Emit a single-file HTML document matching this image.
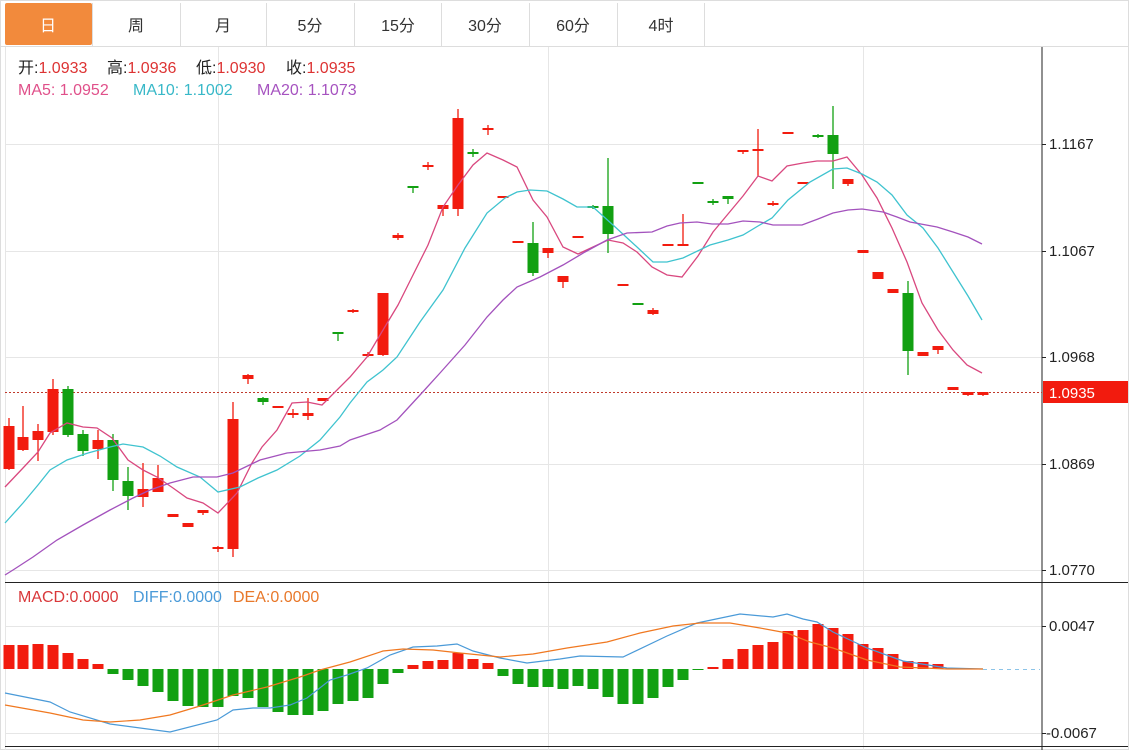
<!DOCTYPE html>
<html><head><meta charset="utf-8"><style>
html,body{margin:0;padding:0;background:#fff;}
svg{display:block;font-family:"Liberation Sans","Noto Sans CJK SC",sans-serif;}
</style></head><body>
<svg width="1137" height="750" viewBox="0 0 1137 750" xmlns="http://www.w3.org/2000/svg">
<rect x="0.5" y="0.5" width="1128" height="749" fill="#fff" stroke="#ddd"/>
<line x1="0" y1="46.5" x2="1128" y2="46.5" stroke="#ddd"/>
<rect x="5" y="3" width="87" height="42" rx="2" fill="#f28a3c"/>
<g stroke="#ddd">
<line x1="92.5" y1="3" x2="92.5" y2="46"/><line x1="180.5" y1="3" x2="180.5" y2="46"/>
<line x1="266.5" y1="3" x2="266.5" y2="46"/><line x1="354.5" y1="3" x2="354.5" y2="46"/>
<line x1="441.5" y1="3" x2="441.5" y2="46"/><line x1="529.5" y1="3" x2="529.5" y2="46"/>
<line x1="617.5" y1="3" x2="617.5" y2="46"/><line x1="704.5" y1="3" x2="704.5" y2="46"/>
</g>
<g font-size="16" text-anchor="middle" fill="#333">
<text x="48" y="31" fill="#fff">日</text><text x="136" y="31">周</text><text x="223" y="31">月</text>
<text x="310" y="31">5分</text><text x="398" y="31">15分</text><text x="485" y="31">30分</text>
<text x="573" y="31">60分</text><text x="661" y="31">4时</text>
</g>
<g stroke="#e6e6e6">
<line x1="5" y1="144.5" x2="1042" y2="144.5"/><line x1="5" y1="251.5" x2="1042" y2="251.5"/>
<line x1="5" y1="357.5" x2="1042" y2="357.5"/><line x1="5" y1="464.5" x2="1042" y2="464.5"/>
<line x1="5" y1="570.5" x2="1042" y2="570.5"/>
<line x1="5" y1="626.5" x2="1042" y2="626.5"/><line x1="5" y1="733.5" x2="1042" y2="733.5"/>
<line x1="218.5" y1="47" x2="218.5" y2="750"/><line x1="548.5" y1="47" x2="548.5" y2="750"/>
<line x1="863.5" y1="47" x2="863.5" y2="750"/>
<line x1="5.5" y1="47" x2="5.5" y2="750"/>
</g>
<line x1="1042" y1="47" x2="1042" y2="750" stroke="#222"/>
<line x1="5" y1="582.5" x2="1128" y2="582.5" stroke="#222"/>
<line x1="5" y1="746.5" x2="1128" y2="746.5" stroke="#222"/>
<g stroke="#222">
<line x1="1042" y1="144.5" x2="1046" y2="144.5"/><line x1="1042" y1="251.5" x2="1046" y2="251.5"/>
<line x1="1042" y1="357.5" x2="1046" y2="357.5"/><line x1="1042" y1="464.5" x2="1046" y2="464.5"/>
<line x1="1042" y1="570.5" x2="1046" y2="570.5"/><line x1="1042" y1="626.5" x2="1046" y2="626.5"/>
<line x1="1042" y1="733.5" x2="1046" y2="733.5"/>
</g>
<g font-size="15" fill="#222">
<text x="1049" y="149">1.1167</text><text x="1049" y="256">1.1067</text>
<text x="1049" y="362">1.0968</text><text x="1049" y="469">1.0869</text>
<text x="1049" y="575">1.0770</text><text x="1049" y="631">0.0047</text>
<text x="1046" y="738">-0.0067</text>
</g>
<line x1="5" y1="392.5" x2="1042" y2="392.5" stroke="#c0392b" stroke-dasharray="2,2"/>
<rect x="1043" y="381" width="85" height="22" fill="#f21b0e"/>
<text x="1049" y="398" font-size="15" fill="#fff">1.0935</text>
<g font-size="16">
<text x="18" y="73"><tspan fill="#222">开:</tspan><tspan fill="#d33">1.0933</tspan></text>
<text x="107" y="73"><tspan fill="#222">高:</tspan><tspan fill="#d33">1.0936</tspan></text>
<text x="196" y="73"><tspan fill="#222">低:</tspan><tspan fill="#d33">1.0930</tspan></text>
<text x="286" y="73"><tspan fill="#222">收:</tspan><tspan fill="#d33">1.0935</tspan></text>
<text x="18" y="95" fill="#e0508a">MA5: 1.0952</text>
<text x="133" y="95" fill="#38b8c8">MA10: 1.1002</text>
<text x="257" y="95" fill="#a653c0">MA20: 1.1073</text>
<text x="18" y="602" fill="#d9383a">MACD:0.0000</text>
<text x="133" y="602" fill="#4a9ad8">DIFF:0.0000</text>
<text x="233" y="602" fill="#e8782a">DEA:0.0000</text>
</g>
<g stroke-width="1.3">
<g fill="#f21b0e" stroke="#f21b0e">
<line x1="9" y1="418" x2="9" y2="470"/><rect x="3.5" y="426" width="11" height="43" stroke="none"/>
<line x1="23" y1="406" x2="23" y2="451"/><rect x="17.5" y="437" width="11" height="13" stroke="none"/>
<line x1="38" y1="424" x2="38" y2="461"/><rect x="32.5" y="431" width="11" height="9" stroke="none"/>
<line x1="53" y1="379" x2="53" y2="435"/><rect x="47.5" y="389" width="11" height="43" stroke="none"/>
<line x1="98" y1="430" x2="98" y2="459"/><rect x="92.5" y="440" width="11" height="9" stroke="none"/>
<line x1="143" y1="463" x2="143" y2="507"/><rect x="137.5" y="489" width="11" height="8" stroke="none"/>
<line x1="158" y1="465" x2="158" y2="492"/><rect x="152.5" y="478" width="11" height="14" stroke="none"/>
<rect x="167.5" y="514" width="11" height="3" stroke="none"/>
<rect x="182.5" y="523" width="11" height="4" stroke="none"/>
<line x1="203" y1="510" x2="203" y2="515"/><rect x="197.5" y="510" width="11" height="3" stroke="none"/>
<line x1="218" y1="546" x2="218" y2="552"/><rect x="212.5" y="547" width="11" height="2" stroke="none"/>
<line x1="233" y1="402" x2="233" y2="557"/><rect x="227.5" y="419" width="11" height="130" stroke="none"/>
<line x1="248" y1="374" x2="248" y2="384"/><rect x="242.5" y="375" width="11" height="4" stroke="none"/>
<rect x="272.5" y="406" width="11" height="2" stroke="none"/>
<line x1="293" y1="409" x2="293" y2="418"/><rect x="287.5" y="413" width="11" height="2" stroke="none"/>
<line x1="308" y1="398" x2="308" y2="420"/><rect x="302.5" y="413" width="11" height="3" stroke="none"/>
<rect x="317.5" y="398" width="11" height="3" stroke="none"/>
<line x1="353" y1="309" x2="353" y2="313"/><rect x="347.5" y="310" width="11" height="2" stroke="none"/>
<line x1="368" y1="352" x2="368" y2="357"/><rect x="362.5" y="354" width="11" height="2" stroke="none"/>
<line x1="383" y1="293" x2="383" y2="356"/><rect x="377.5" y="293" width="11" height="62" stroke="none"/>
<line x1="398" y1="233" x2="398" y2="240"/><rect x="392.5" y="235" width="11" height="3" stroke="none"/>
<line x1="428" y1="162" x2="428" y2="170"/><rect x="422.5" y="165" width="11" height="2" stroke="none"/>
<line x1="443" y1="205" x2="443" y2="216"/><rect x="437.5" y="205" width="11" height="4" stroke="none"/>
<line x1="458" y1="109" x2="458" y2="216"/><rect x="452.5" y="118" width="11" height="91" stroke="none"/>
<line x1="488" y1="125" x2="488" y2="135"/><rect x="482.5" y="128" width="11" height="2" stroke="none"/>
<rect x="497.5" y="196" width="11" height="2" stroke="none"/>
<rect x="512.5" y="241" width="11" height="2" stroke="none"/>
<line x1="548" y1="248" x2="548" y2="258"/><rect x="542.5" y="248" width="11" height="5" stroke="none"/>
<line x1="563" y1="276" x2="563" y2="288"/><rect x="557.5" y="276" width="11" height="6" stroke="none"/>
<rect x="572.5" y="236" width="11" height="2" stroke="none"/>
<rect x="617.5" y="284" width="11" height="2" stroke="none"/>
<line x1="653" y1="308" x2="653" y2="315"/><rect x="647.5" y="310" width="11" height="4" stroke="none"/>
<rect x="662.5" y="244" width="11" height="2" stroke="none"/>
<line x1="683" y1="214" x2="683" y2="246"/><rect x="677.5" y="244" width="11" height="2" stroke="none"/>
<line x1="743" y1="150" x2="743" y2="154"/><rect x="737.5" y="150" width="11" height="2" stroke="none"/>
<line x1="758" y1="129" x2="758" y2="176"/><rect x="752.5" y="149" width="11" height="2" stroke="none"/>
<line x1="773" y1="201" x2="773" y2="206"/><rect x="767.5" y="203" width="11" height="2" stroke="none"/>
<rect x="782.5" y="132" width="11" height="2" stroke="none"/>
<rect x="797.5" y="182" width="11" height="2" stroke="none"/>
<line x1="848" y1="179" x2="848" y2="186"/><rect x="842.5" y="179" width="11" height="5" stroke="none"/>
<rect x="857.5" y="250" width="11" height="3" stroke="none"/>
<rect x="872.5" y="272" width="11" height="7" stroke="none"/>
<rect x="887.5" y="289" width="11" height="4" stroke="none"/>
<rect x="917.5" y="352" width="11" height="4" stroke="none"/>
<line x1="938" y1="347" x2="938" y2="354"/><rect x="932.5" y="346" width="11" height="4" stroke="none"/>
<rect x="947.5" y="387" width="11" height="3" stroke="none"/>
<line x1="968" y1="392" x2="968" y2="396"/><rect x="962.5" y="392" width="11" height="3" stroke="none"/>
<line x1="983" y1="392" x2="983" y2="396"/><rect x="977.5" y="392" width="11" height="3" stroke="none"/>
</g>
<g fill="#12a012" stroke="#12a012">
<line x1="68" y1="386" x2="68" y2="437"/><rect x="62.5" y="389" width="11" height="46" stroke="none"/>
<line x1="83" y1="430" x2="83" y2="456"/><rect x="77.5" y="434" width="11" height="17" stroke="none"/>
<line x1="113" y1="434" x2="113" y2="491"/><rect x="107.5" y="440" width="11" height="40" stroke="none"/>
<line x1="128" y1="467" x2="128" y2="510"/><rect x="122.5" y="481" width="11" height="15" stroke="none"/>
<line x1="263" y1="397" x2="263" y2="405"/><rect x="257.5" y="398" width="11" height="4" stroke="none"/>
<line x1="338" y1="333" x2="338" y2="341"/><rect x="332.5" y="332" width="11" height="2" stroke="none"/>
<line x1="413" y1="187" x2="413" y2="193"/><rect x="407.5" y="186" width="11" height="2" stroke="none"/>
<line x1="473" y1="149" x2="473" y2="157"/><rect x="467.5" y="152" width="11" height="2" stroke="none"/>
<line x1="533" y1="222" x2="533" y2="276"/><rect x="527.5" y="243" width="11" height="30" stroke="none"/>
<line x1="593" y1="205" x2="593" y2="209"/><rect x="587.5" y="206" width="11" height="2" stroke="none"/>
<line x1="608" y1="158" x2="608" y2="253"/><rect x="602.5" y="206" width="11" height="28" stroke="none"/>
<rect x="632.5" y="303" width="11" height="2" stroke="none"/>
<rect x="692.5" y="182" width="11" height="2" stroke="none"/>
<line x1="713" y1="199" x2="713" y2="205"/><rect x="707.5" y="201" width="11" height="2" stroke="none"/>
<line x1="728" y1="197" x2="728" y2="204"/><rect x="722.5" y="196" width="11" height="3" stroke="none"/>
<line x1="818" y1="134" x2="818" y2="138"/><rect x="812.5" y="135" width="11" height="2" stroke="none"/>
<line x1="833" y1="106" x2="833" y2="189"/><rect x="827.5" y="135" width="11" height="19" stroke="none"/>
<line x1="908" y1="281" x2="908" y2="375"/><rect x="902.5" y="293" width="11" height="58" stroke="none"/>
</g>
</g>
<g fill="none" stroke-width="1.3">
<polyline stroke="#d9487f" points="5,487 23,468 38,452 50,433 67,423 83,427 97,428 112,438 128,460 143,470 157,477 173,488 187,498 203,503 218,513 237,493 252,463 262,447 277,430 292,403 307,402 322,405 330,397 350,377 367,357 383,330 398,305 407,287 428,245 443,207 458,185 473,165 487,153 503,160 517,167 533,200 547,217 563,247 578,254 593,247 608,240 623,243 637,252 652,267 667,275 682,277 698,256 713,232 728,214 743,196 758,176 772,181 787,166 803,163 817,161 833,161 847,157 862,175 877,198 892,228 907,262 922,303 938,330 953,350 967,365 982,373"/>
<polyline stroke="#3fc3cf" points="5,523 23,503 38,485 50,470 67,460 88,453 110,447 123,444 143,447 160,456 177,467 200,477 218,492 240,487 258,478 277,470 300,456 320,440 340,417 350,403 367,382 383,370 397,357 420,322 443,290 465,248 487,213 505,198 517,192 530,190 547,191 563,199 577,207 593,207 613,225 625,236 637,247 653,262 667,262 683,258 710,245 728,240 743,235 758,226 772,218 788,200 810,182 833,169 847,168 862,174 877,182 892,195 907,215 923,228 938,248 953,272 968,296 982,320"/>
<polyline stroke="#a352bd" points="5,575 13,570 33,557 57,540 83,525 110,510 133,498 150,490 170,483 193,477 217,477 233,473 260,460 287,453 320,450 340,446 350,440 380,430 397,420 420,395 440,373 465,345 487,317 503,300 517,287 540,277 563,265 585,252 607,240 627,233 652,232 667,226 680,223 697,222 712,224 728,224 743,221 760,222 773,225 802,225 818,219 833,213 848,210 862,209 883,212 897,217 910,222 937,227 953,232 968,237 982,244"/>
</g>
<g fill="#f21b0e">
<rect x="3.5" y="645" width="11" height="24"/><rect x="17.5" y="645" width="11" height="24"/>
<rect x="32.5" y="644" width="11" height="25"/><rect x="47.5" y="645" width="11" height="24"/>
<rect x="62.5" y="653" width="11" height="16"/><rect x="77.5" y="659" width="11" height="10"/>
<rect x="92.5" y="664" width="11" height="5"/>
<rect x="407.5" y="665" width="11" height="4"/><rect x="422.5" y="661" width="11" height="8"/>
<rect x="437.5" y="660" width="11" height="9"/><rect x="452.5" y="653" width="11" height="16"/>
<rect x="467.5" y="659" width="11" height="10"/><rect x="482.5" y="663" width="11" height="6"/>
<rect x="707.5" y="667" width="11" height="2"/><rect x="722.5" y="659" width="11" height="10"/>
<rect x="737.5" y="649" width="11" height="20"/><rect x="752.5" y="645" width="11" height="24"/>
<rect x="767.5" y="642" width="11" height="27"/><rect x="782.5" y="631" width="11" height="38"/>
<rect x="797.5" y="630" width="11" height="39"/><rect x="812.5" y="624" width="11" height="45"/>
<rect x="827.5" y="628" width="11" height="41"/><rect x="842.5" y="634" width="11" height="35"/>
<rect x="857.5" y="644" width="11" height="25"/><rect x="872.5" y="648" width="11" height="21"/>
<rect x="887.5" y="654" width="11" height="15"/><rect x="902.5" y="661" width="11" height="8"/>
<rect x="917.5" y="662" width="11" height="7"/><rect x="932.5" y="664" width="11" height="5"/>
</g>
<g fill="#12a012">
<rect x="107.5" y="669" width="11" height="5"/><rect x="122.5" y="669" width="11" height="11"/>
<rect x="137.5" y="669" width="11" height="17"/><rect x="152.5" y="669" width="11" height="23"/>
<rect x="167.5" y="669" width="11" height="32"/><rect x="182.5" y="669" width="11" height="37"/>
<rect x="197.5" y="669" width="11" height="38"/><rect x="212.5" y="669" width="11" height="38"/>
<rect x="227.5" y="669" width="11" height="27"/><rect x="242.5" y="669" width="11" height="29"/>
<rect x="257.5" y="669" width="11" height="38"/><rect x="272.5" y="669" width="11" height="43"/>
<rect x="287.5" y="669" width="11" height="46"/><rect x="302.5" y="669" width="11" height="46"/>
<rect x="317.5" y="669" width="11" height="42"/><rect x="332.5" y="669" width="11" height="35"/>
<rect x="347.5" y="669" width="11" height="32"/><rect x="362.5" y="669" width="11" height="29"/>
<rect x="377.5" y="669" width="11" height="15"/><rect x="392.5" y="669" width="11" height="4"/>
<rect x="497.5" y="669" width="11" height="7"/><rect x="512.5" y="669" width="11" height="15"/>
<rect x="527.5" y="669" width="11" height="18"/><rect x="542.5" y="669" width="11" height="18"/>
<rect x="557.5" y="669" width="11" height="20"/><rect x="572.5" y="669" width="11" height="17"/>
<rect x="587.5" y="669" width="11" height="20"/><rect x="602.5" y="669" width="11" height="28"/>
<rect x="617.5" y="669" width="11" height="35"/><rect x="632.5" y="669" width="11" height="35"/>
<rect x="647.5" y="669" width="11" height="29"/><rect x="662.5" y="669" width="11" height="18"/>
<rect x="677.5" y="669" width="11" height="11"/><rect x="692.5" y="669" width="11" height="1"/>
</g>
<line x1="983" y1="669.5" x2="1040" y2="669.5" stroke="#8cc4e8" stroke-dasharray="4,4"/>
<g fill="none" stroke-width="1.2">
<polyline stroke="#4a9ad8" points="5,693 50,702 70,712 110,724 170,732 217,720 233,710 253,708 270,708 290,705 307,698 330,680 347,675 367,668 390,655 413,647 437,646 457,644 473,651 500,658 527,663 560,659 580,656 623,657 667,636 697,623 740,614 773,617 787,614 803,619 817,622 833,632 850,640 867,648 903,661 947,668 983,669"/>
<polyline stroke="#f07820" points="5,705 50,713 83,720 110,722 140,720 170,715 200,706 233,695 267,687 300,677 320,670 350,662 383,651 403,649 433,650 460,653 500,657 533,654 567,648 607,642 640,633 673,626 700,623 730,623 760,628 787,633 810,642 833,648 867,660 900,667 947,669 983,669"/>
</g>
</svg>
</body></html>
